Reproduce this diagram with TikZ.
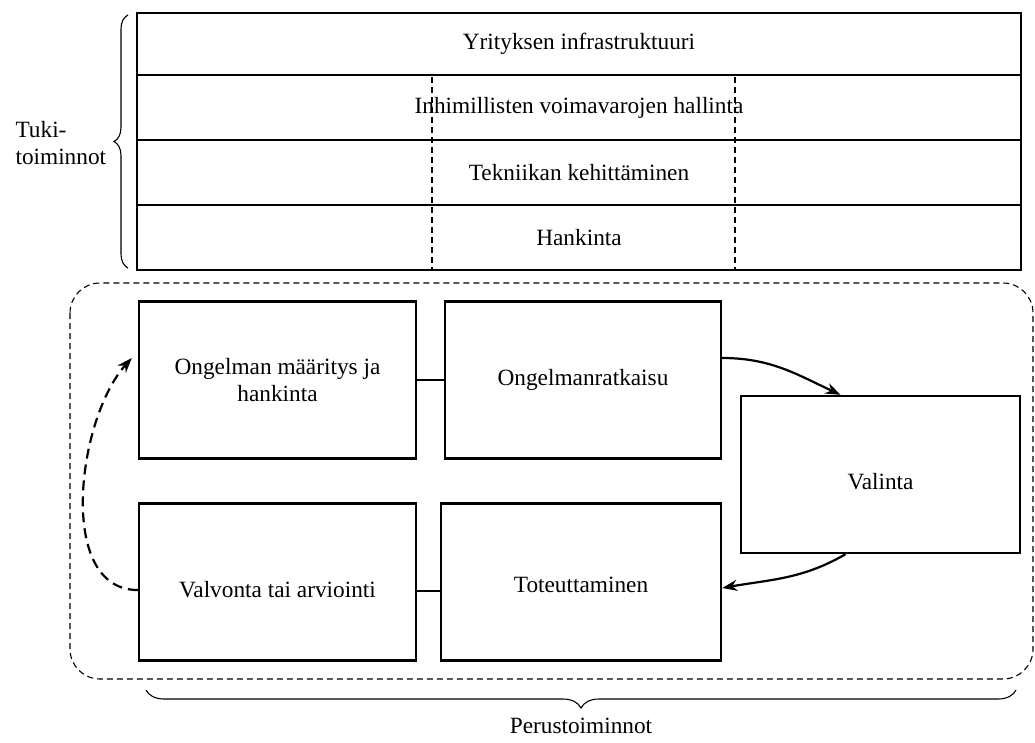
\documentclass[tikz,border=0pt]{standalone}
\usepackage{fontspec}
\setmainfont{Liberation Serif}
\usetikzlibrary{arrows.meta,decorations.pathreplacing}
\newcommand{\lowered}[2]{\raisebox{-#1}[\height][\depth]{#2}}
\begin{document}
\begin{tikzpicture}[x=1pt,y=-1pt,
  font=\fontsize{23.3}{27}\selectfont,
  box/.style={draw, line width=2.4pt, minimum width=277pt, minimum height=157pt, align=center, inner sep=0pt},
  row/.style={draw, line width=2.8pt, minimum width=884pt, inner sep=0pt},
  arr/.style={line width=2.2pt, -{Stealth[length=15pt,width=11pt]}},
  dasharr/.style={arr, dash pattern=on 10pt off 6pt},
  thindash/.style={line width=1.1pt, dash pattern=on 6pt off 4pt},
  bracedeco/.style={decorate, line width=1.1pt}
]
\useasboundingbox (0,0) rectangle (1035,742);

% support activities
\node[row, minimum height=62pt] (R1) at (579,44) {Yrityksen infrastruktuuri};
\node[row, minimum height=65pt] (R2) at (579,107.5) {Inhimillisten voimavarojen hallinta};
\node[row, minimum height=65pt] (R3) at (579,172.5) {Tekniikan kehittäminen};
\node[row, minimum height=65pt] (R4) at (579,237.5) {Hankinta};
\draw[thindash] (432,77) -- (432,269);
\draw[thindash] (735,77) -- (735,269);

\draw[bracedeco, decoration={brace, amplitude=14pt}] (128,268) -- (128,15);
\node[align=left, anchor=west] (tuki) at (12,143) {Tuki-\\toiminnot};

% primary activities
\draw[thindash, rounded corners=30pt] (70,283) rectangle (1033,679);

\node[box] (A) at (277.5,380) {Ongelman määritys ja\\hankinta};
\node[box, minimum width=276pt] (B) at (583,380) {Ongelmanratkaisu};
\node[box, minimum width=279pt] (C) at (880.5,474.5) {\lowered{7pt}{Valinta}};
\node[box] (D) at (277.5,582) {\lowered{8pt}{Valvonta tai arviointi}};
\node[box, minimum width=280pt] (E) at (581,582) {\lowered{3pt}{Toteuttaminen}};

\draw[line width=2.2pt] (A.east) -- (B.west);
\draw[line width=2.2pt] ([yshift=-9pt]D.east) -- ([yshift=-9pt]E.west);

\draw[arr] ([yshift=22pt]B.east) to[out=0,in=155] ([xshift=-40pt]C.north);
\draw[arr] ([xshift=-35pt]C.south) to[out=210,in=10] ([yshift=-6pt]E.east);
\draw[dasharr] ([yshift=-8pt]D.west) to[out=180,in=228,looseness=0.9] ([xshift=-6pt,yshift=22pt]A.west);

\draw[bracedeco, decoration={brace, amplitude=18pt}] (1016,690) -- (146,690);
\node (perus) at (581,726) {Perustoiminnot};
\end{tikzpicture}
\end{document}
